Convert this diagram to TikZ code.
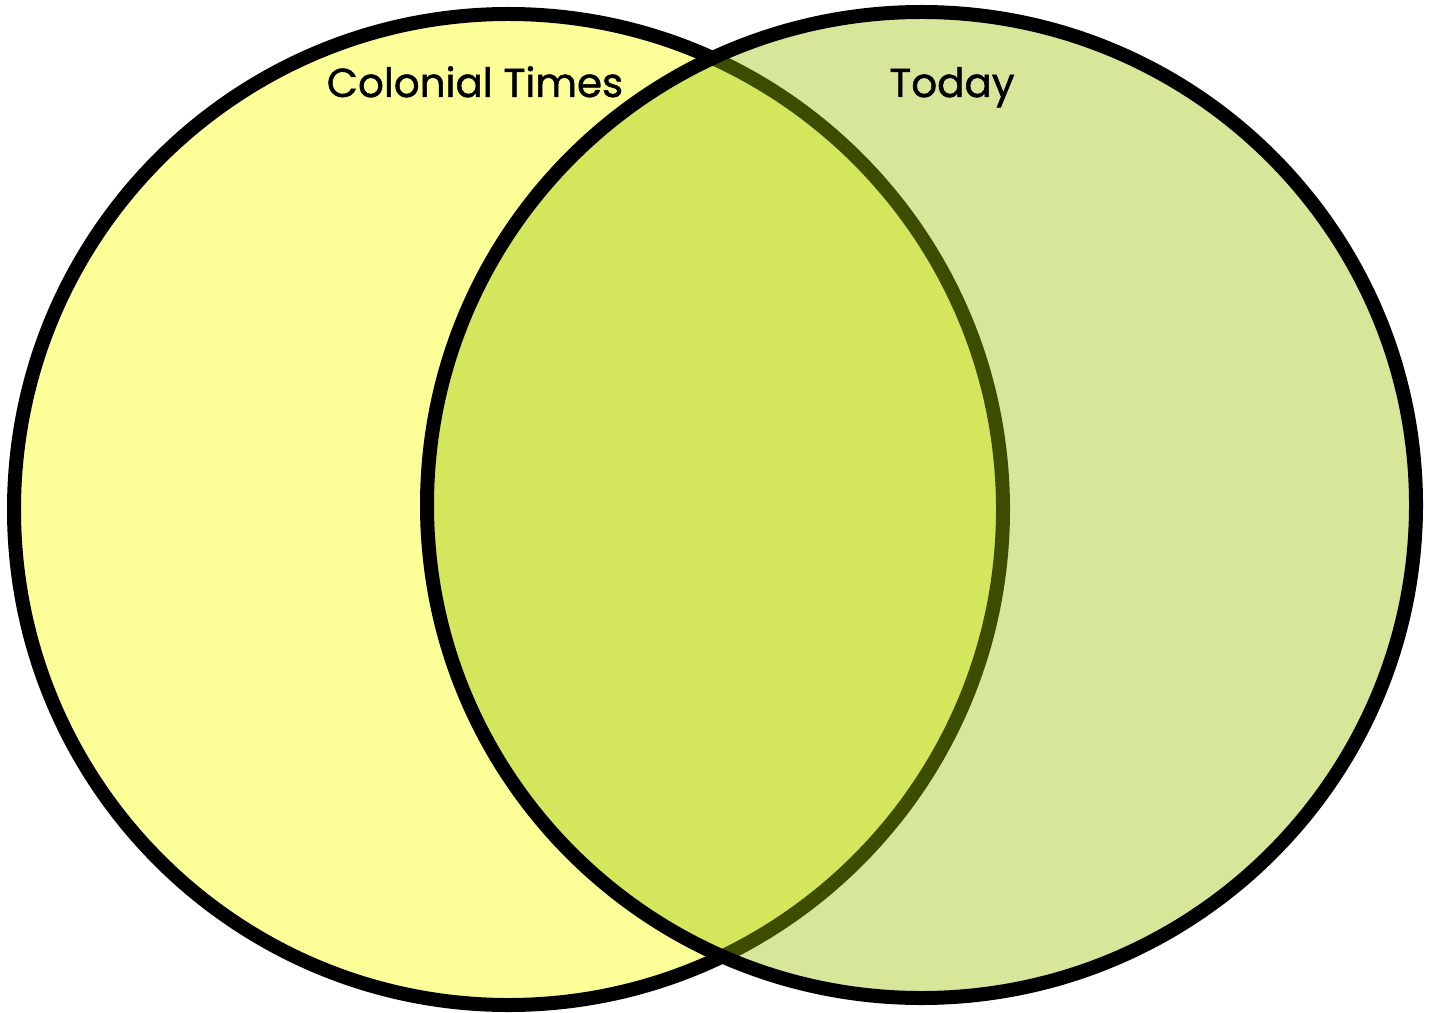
\documentclass[tikz,border=0pt]{standalone}
\usepackage{fontspec}
\setmainfont{Poppins}
\newfontfamily\setfont{Poppins}[FakeBold=1.2]
\usetikzlibrary{positioning}

\definecolor{colonialfill}{HTML}{FCFE98}
\definecolor{todayfill}{HTML}{9AC200}

\begin{document}
\begin{tikzpicture}[
        x=0.02cm, y=-0.02cm,
        ring/.style={draw=black, line width=0.28cm},
        setlabel/.style={font=\setfont\fontsize{23}{27}\selectfont, text=black, inner sep=0pt, anchor=base}
    ]
        \useasboundingbox (0,0) rectangle (1432,1013);

        % left set, then the right one laid over it
        \fill[colonialfill] (508.5,509.5) ellipse [x radius=494.5, y radius=495.5];
        \draw[ring] (508.5,509.5) ellipse [x radius=494.5, y radius=495.5];
        \fill[todayfill, fill opacity=0.4] (921.5,505) ellipse [x radius=494.5, y radius=493];
        \draw[ring] (921.5,505) ellipse [x radius=494.5, y radius=493];

        \node[setlabel] (colonial) at (475,97) {Colonial Times};
        \node[setlabel] (today) at (952,97) {Today};
    \end{tikzpicture}
\end{document}
